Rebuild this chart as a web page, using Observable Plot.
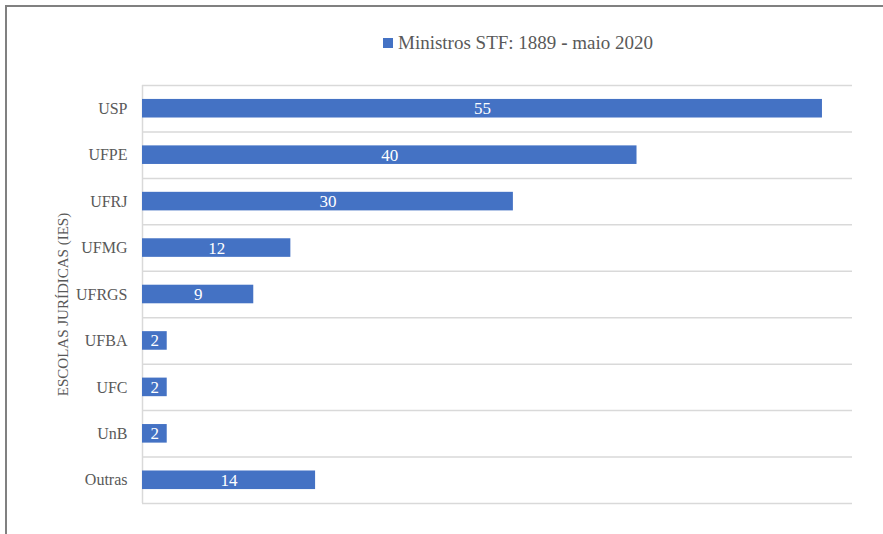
<!DOCTYPE html>
<html>
<head>
<meta charset="utf-8">
<script src="https://cdn.jsdelivr.net/npm/d3@7"></script>
<script src="https://cdn.jsdelivr.net/npm/@observablehq/plot@0.6"></script>
<style>
  body { margin: 0; background: #fff; font-family: "Liberation Serif", serif; }
  #chart { position: relative; width: 883px; height: 534px; overflow: hidden; background: #fff; }
  #frame { position: absolute; left: 5px; top: 5px; width: 900px; height: 600px;
           border-top: 2px solid #808080; border-left: 2px solid #808080; box-sizing: border-box; pointer-events: none; }
  #legend { position: relative; height: 70px; }
  #legend .item { position: absolute; left: 383px; top: 32px; display: flex; align-items: center;
                  font-size: 19px; color: #595959; white-space: nowrap; line-height: 22px; }
  #legend .swatch { display: inline-block; width: 10px; height: 10px; margin-right: 5px; }
  svg { display: block; }
  #chart svg text { font-family: "Liberation Serif", serif; }
</style>
</head>
<body>
<div id="chart">
  <div id="frame"></div>
  <div id="legend"></div>
</div>
<script>
// Law schools of the Supreme Court (STF) ministers, 1889 – May 2020
const schools = ["USP", "UFPE", "UFRJ", "UFMG", "UFRGS", "UFBA", "UFC", "UnB", "Outras"];
const ministers = [55, 40, 30, 12, 9, 2, 2, 2, 14];
const seriesName = "Ministros STF: 1889 - maio 2020";
const axisTitle = "ESCOLAS JURÍDICAS (IES)";
const xMax = 57.43;
const barColor = "#4472C4";
const serif = "'Liberation Serif', serif";

const rows = schools.map((school, i) => ({ school, value: ministers[i], i }));

// legend
const legend = document.getElementById("legend");
const item = document.createElement("div");
item.className = "item";
const swatch = document.createElement("span");
swatch.className = "swatch";
swatch.style.background = barColor;
const label = document.createElement("span");
const parts = seriesName.split(" - ");
label.innerHTML = parts[0] + " <b>-</b> " + parts[1];
item.append(swatch, label);
legend.append(item);

const chart = Plot.plot({
  width: 883,
  height: 464,
  marginLeft: 142,
  marginRight: 31,
  marginTop: 15,
  marginBottom: 31,
  style: `font-family: ${serif}; font-size: 16px; color: #595959; background: transparent;`,
  x: { domain: [0, xMax], axis: null },
  y: { domain: [0, schools.length], reverse: true, axis: null },
  marks: [
    // category separators
    Plot.ruleY(d3.range(schools.length + 1), { stroke: "#d9d9d9", strokeWidth: 1.5 }),
    Plot.ruleX([0], { stroke: "#d9d9d9", strokeWidth: 1.5 }),
    // bars
    Plot.rect(rows, { x1: 0, x2: "value", y1: d => d.i + 0.3, y2: d => d.i + 0.7, fill: barColor }),
    // value labels centred in each bar
    Plot.text(rows, {
      x: d => d.value / 2, y: d => d.i + 0.5, text: d => String(d.value),
      fill: "white", fontSize: 17, fontFamily: serif
    }),
    // category labels
    Plot.axisY({
      ticks: schools.map((_, i) => i + 0.5),
      tickFormat: v => schools[Math.floor(v)],
      tickSize: 0,
      tickPadding: 15,
      label: null,
      fontSize: 16,
      fontFamily: serif
    }),
    // axis title
    Plot.text([axisTitle], {
      text: d => d,
      frameAnchor: "left",
      textAnchor: "middle",
      rotate: -90,
      dx: -79,
      dy: 10,
      fontSize: 15,
      fontFamily: serif,
      fill: "#595959"
    })
  ]
});

document.getElementById("chart").append(chart);
</script>
</body>
</html>
